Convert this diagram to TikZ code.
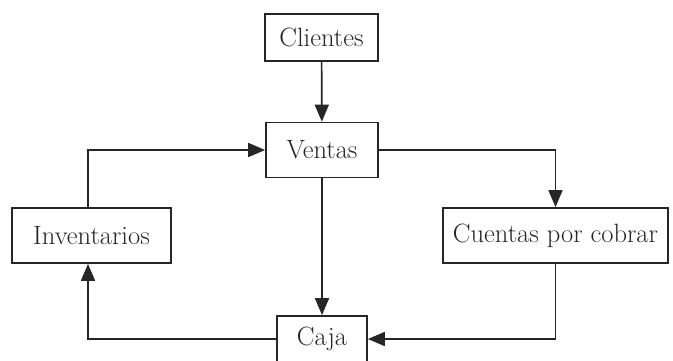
\documentclass[tikz,border=0pt]{standalone}
\usetikzlibrary{arrows.meta}
\begin{document}
\begin{tikzpicture}[x=1pt,y=-1pt,
  box/.style={draw=black!85, line width=1.7pt, fill=white, inner sep=0pt,
    font=\fontsize{26.5}{30}\selectfont, text=black!85},
  conn/.style={draw=black!85, line width=1.7pt, -{Triangle[length=17pt,width=14pt]}},
  plain/.style={draw=black!85, line width=1.7pt}]
\useasboundingbox (0,0) rectangle (673,360);
\node[box, minimum width=113pt, minimum height=47pt] (cli) at (321.5,37.5) {Clientes};
\node[box, minimum width=112pt, minimum height=55pt] (ven) at (322,150) {Ventas};
\node[box, minimum width=159pt, minimum height=55pt] (inv) at (91.5,235.5) {Inventarios};
\node[box, minimum width=225pt, minimum height=55pt] (cue) at (555.5,235.5) {Cuentas por cobrar};
\node[box, minimum width=90pt, minimum height=46pt] (caja) at (322,339) {Caja};
\draw[conn] (cli) -- (ven);
\draw[conn] (ven) -- (caja);
\draw[conn] ([xshift=-3.5pt]inv.north) |- (ven.west);
\draw[conn] (ven.east) -| (cue.north);
\draw[conn] (cue.south) |- (caja.east);
\draw[conn] (caja.west) -| ([xshift=-3.5pt]inv.south);
\end{tikzpicture}
\end{document}
